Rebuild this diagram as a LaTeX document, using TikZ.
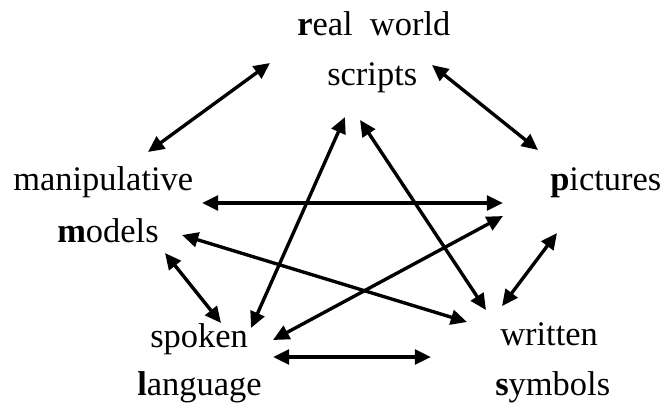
\documentclass[tikz,border=0pt]{standalone}
\usepackage{fontspec}
\setmainfont{Liberation Serif}
\usetikzlibrary{arrows.meta}

\begin{document}
\begin{tikzpicture}[x=0.025cm, y=-0.025cm,
    every node/.style={font=\fontsize{24.5}{28}\selectfont, inner sep=0pt, anchor=base west},
    link/.style={{Triangle[length=11.5pt,width=10.5pt]}-{Triangle[length=11.5pt,width=10.5pt]}, line width=2.4pt}]
    \useasboundingbox (0,0) rectangle (663,404);

    \node (real) at (297,35) {\textbf{r}eal\ \ world};
    \node (scripts) at (327,85) {scripts};
    \node (manip) at (13,190) {manipulative};
    \node (models) at (57,242) {\textbf{m}odels};
    \node (pict) at (550,190) {\textbf{p}ictures};
    \node (spoken) at (150,347) {spoken};
    \node (lang) at (137,395) {\textbf{l}anguage};
    \node (written) at (500,345) {written};
    \node (symb) at (495,395) {\textbf{s}ymbols};

    \coordinate (real-l) at (270,63);
    \coordinate (real-r) at (432,65);
    \coordinate (scr-l) at (345,117);
    \coordinate (scr-r) at (360,120);
    \coordinate (manip-t) at (148,152);
    \coordinate (manip-r) at (202,203);
    \coordinate (mod-r) at (182,235);
    \coordinate (mod-b) at (165,253);
    \coordinate (pict-t) at (538,150);
    \coordinate (pict-l) at (503,203);
    \coordinate (pict-b) at (503,216);
    \coordinate (pict-d) at (557,233);
    \coordinate (spok-l) at (221,323);
    \coordinate (spok-t) at (251,328);
    \coordinate (spok-r) at (273,340);
    \coordinate (lang-r) at (273,357);
    \coordinate (writ-l) at (467,322);
    \coordinate (writ-t) at (486,310);
    \coordinate (writ-r) at (502,306);
    \coordinate (symb-l) at (431,357);

    \draw[link] (real-l) -- (manip-t);
    \draw[link] (real-r) -- (pict-t);
    \draw[link] (manip-r) -- (pict-l);
    \draw[link] (scr-l) -- (spok-t);
    \draw[link] (scr-r) -- (writ-t);
    \draw[link] (mod-r) -- (writ-l);
    \draw[link] (pict-b) -- (spok-r);
    \draw[link] (pict-d) -- (writ-r);
    \draw[link] (mod-b) -- (spok-l);
    \draw[link] (lang-r) -- (symb-l);
\end{tikzpicture}
\end{document}
